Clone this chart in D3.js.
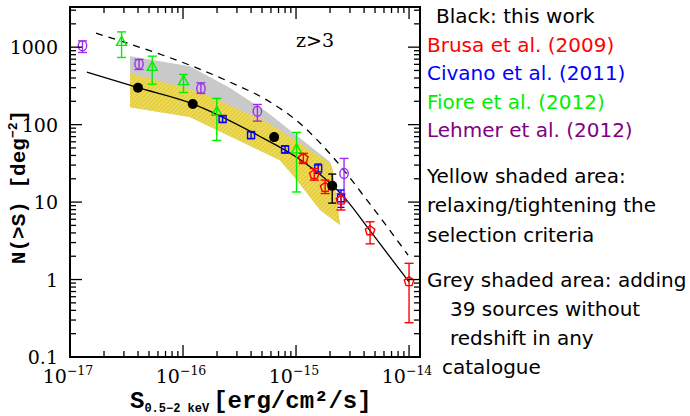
<!DOCTYPE html>
<html><head><meta charset="utf-8">
<script src="https://cdn.jsdelivr.net/npm/d3@7"></script>
<style>body{margin:0;background:#fff}svg{display:block}</style>
</head><body><svg id="c" width="690" height="416"></svg>
<script>
// ---------- data ----------
const xTicks = [1e-17, 1e-16, 1e-15, 1e-14];
const xTickExp = ["−17", "−16", "−15", "−14"];
const yTicks = [0.1, 1, 10, 100, 1000];
const yTickLabels = ["0.1", "1", "10", "100", "1000"];

// this work (black filled circles): [S, N, Nlow, Nhigh]
const thisWork = [[4.0e-17, 299, 290, 308], [1.22e-16, 185, 180, 190], [6.4e-16, 69, 64, 74], [2.09e-15, 16.2, 9.7, 23]];
const modelLine = [[1.41e-17, 475], [4.0e-17, 300], [1.2e-16, 187], [4.5e-16, 74], [1.1e-15, 35], [2.1e-15, 16.5], [2.8e-15, 10.6], [4.5e-15, 4.3], [1e-14, 0.93]];
const dashedLine = [[1.7e-17, 1517], [2.61e-16, 353], [5.53e-16, 207], [1.08e-15, 104], [2.12e-15, 38.1], [4.25e-15, 10.6], [9.8e-15, 2.07]];

// Brusa (red pentagons)
const brusa = [[1.16e-15, 36.6, 31.5, 42.5], [1.45e-15, 22.7, 19.2, 27.2], [1.81e-15, 15.5, 12.9, 19.2], [2.5e-15, 10.6, 7.9, 12.9], [4.52e-15, 4.27, 2.89, 5.57], [1e-14, 0.94, 0.277, 1.62]];
// Civano (blue squares)
const civano = [[2.24e-16, 118, 107, 130], [4.0e-16, 73.3, 66, 81], [8.0e-16, 47.9, 43, 53], [1.57e-15, 27.2, 23.5, 31], [2.5e-15, 11.2, 8.55, 14.3]];
// Fiore (green triangles)
const fiore = [[2.86e-17, 1170, 736, 1575], [5.34e-17, 557, 333, 765], [1.01e-16, 364, 260, 444], [1.99e-16, 146, 62.5, 218], [1.01e-15, 47.9, 13.5, 79.3]];
// Lehmer (purple circles)
const lehmer = [[1.29e-17, 1040, 854, 1206], [4.08e-17, 604, 515, 693], [1.44e-16, 293, 253, 346], [4.55e-16, 149, 111, 182], [2.66e-15, 23.4, 10.1, 36.6]];

// shaded areas (outline points)
const yellowUpper = [[3.4e-17, 462], [1.41e-16, 263], [5.53e-16, 108], [1.41e-15, 44.2], [2.0e-15, 31.8], [2.1e-15, 27]];
const yellowLower = [[2.45e-15, 5.05], [1.63e-15, 7.9], [1.02e-15, 19.2], [7.2e-16, 34.8], [1.15e-16, 125], [3.4e-17, 168]];
const greyUpper = [[3.4e-17, 766], [1.15e-16, 568], [2.61e-16, 296], [5.53e-16, 145], [1.08e-15, 67], [2.0e-15, 32.8], [2.1e-15, 27]];

const legendLines = [
  {t: "Black: this work", c: "#000", x: 436, y: 23},
  {t: "Brusa et al. (2009)", c: "#ff0000", x: 427, y: 52},
  {t: "Civano et al. (2011)", c: "#0000ff", x: 427, y: 80},
  {t: "Fiore et al. (2012)", c: "#00ee00", x: 427, y: 109},
  {t: "Lehmer et al. (2012)", c: "#800080", x: 427, y: 137},
  {t: "Yellow shaded area:", c: "#000", x: 427, y: 183},
  {t: "relaxing/tightening the", c: "#000", x: 427, y: 212},
  {t: "selection criteria", c: "#000", x: 427, y: 242},
  {t: "Grey shaded area: adding", c: "#000", x: 427, y: 287},
  {t: "39 sources without", c: "#000", x: 450, y: 316},
  {t: "redshift in any", c: "#000", x: 450, y: 345},
  {t: "catalogue", c: "#000", x: 442, y: 374}
];

// ---------- drawing ----------
const svg = d3.select("#c");
const L = 70, R = 420, T = 7, B = 357;
const x = d3.scaleLog().domain([1e-17, 1.25e-14]).range([L, R]);
const y = d3.scaleLog().domain([0.1, 3300]).range([B, T]);

const defs = svg.append("defs");
const pat = defs.append("pattern").attr("id", "hatch").attr("patternUnits", "userSpaceOnUse")
  .attr("width", 3).attr("height", 3).attr("patternTransform", "rotate(45)");
pat.append("rect").attr("width", 3).attr("height", 3).attr("fill", "#e6cf3c");
pat.append("line").attr("x1", 0).attr("y1", 0).attr("x2", 0).attr("y2", 3).attr("stroke", "#f4e88e").attr("stroke-width", 1.2);
defs.append("clipPath").attr("id", "clip").append("rect").attr("x", L).attr("y", T).attr("width", R - L).attr("height", B - T);

const poly = d3.line().x(d => x(d[0])).y(d => y(d[1]));
const g = svg.append("g").attr("clip-path", "url(#clip)");
g.append("path").attr("d", poly(greyUpper.concat(yellowLower)) + "Z").attr("fill", "#c9c9c9");
g.append("path").attr("d", poly(yellowUpper.concat(yellowLower)) + "Z").attr("fill", "url(#hatch)");

const curve = d3.line().x(d => x(d[0])).y(d => y(d[1])).curve(d3.curveMonotoneX);
g.append("path").attr("d", curve(dashedLine)).attr("fill", "none").attr("stroke", "#000").attr("stroke-width", 1.3).attr("stroke-dasharray", "7,6");
g.append("path").attr("d", curve(modelLine)).attr("fill", "none").attr("stroke", "#000").attr("stroke-width", 1.3);

function errbars(data, color, w) {
  const gg = g.append("g").attr("stroke", color).attr("stroke-width", 1.4).attr("fill", "none");
  data.forEach(d => {
    const cx = x(d[0]);
    gg.append("line").attr("x1", cx).attr("x2", cx).attr("y1", y(d[2])).attr("y2", y(d[3]));
    [d[2], d[3]].forEach(v => gg.append("line").attr("x1", cx - w).attr("x2", cx + w).attr("y1", y(v)).attr("y2", y(v)));
  });
  return gg;
}
function pentagon(r) {
  return d3.range(5).map(i => { const a = -Math.PI / 2 + i * 2 * Math.PI / 5; return [r * Math.cos(a), r * Math.sin(a)]; });
}
// Fiore
errbars(fiore, "#00ee00", 4.5).selectAll(null).data(fiore).enter().append("path")
  .attr("d", d => { const cx = x(d[0]), cy = y(d[1]); return `M${cx},${cy - 5.5}L${cx + 5},${cy + 3.5}L${cx - 5},${cy + 3.5}Z`; });
// Lehmer
errbars(lehmer, "#9b30ee", 4.5).selectAll(null).data(lehmer).enter().append("ellipse")
  .attr("cx", d => x(d[0])).attr("cy", d => y(d[1])).attr("rx", 4.2).attr("ry", 5);
// Civano
errbars(civano, "#0000ff", 3.5).selectAll(null).data(civano).enter().append("rect")
  .attr("x", d => x(d[0]) - 3.5).attr("y", d => y(d[1]) - 3.5).attr("width", 7).attr("height", 7);
// Brusa
errbars(brusa, "#ff0000", 4.5).selectAll(null).data(brusa).enter().append("path")
  .attr("d", d => "M" + pentagon(5).map(p => [x(d[0]) + p[0], y(d[1]) + p[1]].join(",")).join("L") + "Z");
// this work
errbars(thisWork, "#000", 4);
g.append("g").selectAll("circle").data(thisWork).enter().append("circle")
  .attr("cx", d => x(d[0])).attr("cy", d => y(d[1])).attr("r", 5).attr("fill", "#000");

// ---------- axes / frame ----------
const ax = svg.append("g").attr("stroke", "#000");
ax.append("rect").attr("x", L).attr("y", T).attr("width", R - L).attr("height", B - T).attr("fill", "none").attr("stroke-width", 2);
function minorTicks(dom) {
  const out = [];
  for (let e = Math.floor(Math.log10(dom[0])); e <= Math.ceil(Math.log10(dom[1])); e++)
    for (let m = 1; m <= 9; m++) { const v = m * Math.pow(10, e); if (v >= dom[0] && v <= dom[1]) out.push({v, major: m === 1}); }
  return out;
}
minorTicks(x.domain()).forEach(t => {
  const px = x(t.v), len = t.major ? 12 : 6;
  ax.append("line").attr("x1", px).attr("x2", px).attr("y1", B).attr("y2", B - len).attr("stroke-width", 1.3);
  ax.append("line").attr("x1", px).attr("x2", px).attr("y1", T).attr("y2", T + len).attr("stroke-width", 1.3);
});
minorTicks(y.domain()).forEach(t => {
  const py = y(t.v), len = t.major ? 12 : 6;
  ax.append("line").attr("x1", L).attr("x2", L + len).attr("y1", py).attr("y2", py).attr("stroke-width", 1.3);
  ax.append("line").attr("x1", R).attr("x2", R - len).attr("y1", py).attr("y2", py).attr("stroke-width", 1.3);
});

const serif = "'DejaVu Serif', serif";
svg.append("g").selectAll("text").data(yTicks).enter().append("text")
  .attr("x", 58).attr("y", d => y(d) + 7).attr("text-anchor", "end")
  .attr("font-family", serif).attr("font-size", 19).text((d, i) => yTickLabels[i]);
const xl = svg.append("g").attr("font-family", serif);
xTicks.forEach((v, i) => {
  const t = xl.append("text").attr("x", x(v) - 2).attr("y", 383).attr("text-anchor", "middle").attr("font-size", 19);
  t.append("tspan").text("10");
  t.append("tspan").attr("dy", -8).attr("font-size", 12.5).text(xTickExp[i]);
});

svg.append("text").attr("x", 315).attr("y", 47).attr("text-anchor", "middle")
  .attr("font-family", serif).attr("font-size", 19).text("z>3");

const mono = "'Liberation Mono', monospace";
const ylab = svg.append("text").attr("transform", "translate(25,187) rotate(-90)").attr("text-anchor", "middle")
  .attr("font-family", mono).attr("font-weight", "bold").attr("font-size", 21);
ylab.append("tspan").text("N(>S) [deg");
ylab.append("tspan").attr("dy", -8).attr("font-size", 13).text("−2");
ylab.append("tspan").attr("dy", 8).text("]");

const xlab = svg.append("text").attr("x", 130).attr("y", 408)
  .attr("font-family", mono).attr("font-weight", "bold").attr("font-size", 24);
xlab.append("tspan").text("S");
xlab.append("tspan").attr("dy", 4).attr("font-size", 12).text("0.5−2 keV");
xlab.append("tspan").attr("dy", -4).attr("dx", 4).text("[erg/cm²/s]");

svg.append("g").selectAll("text").data(legendLines).enter().append("text")
  .attr("x", d => d.x).attr("y", d => d.y).attr("fill", d => d.c)
  .attr("font-family", "'DejaVu Sans', sans-serif").attr("font-size", 20).text(d => d.t);
</script></body></html>
